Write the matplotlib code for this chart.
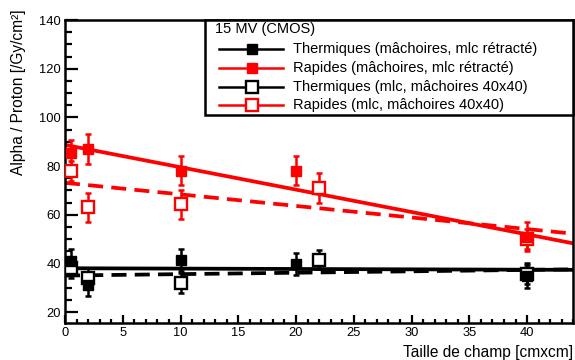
import matplotlib
matplotlib.use("Agg")
import matplotlib.pyplot as plt
from matplotlib.lines import Line2D
from matplotlib.patches import Rectangle
import numpy as np

plt.rcParams['font.family'] = ['Liberation Sans', 'DejaVu Sans']

# ---- data ----
x_jaws = [0.5, 2, 10, 20, 40]
therm_jaws = [41.0, 31.0, 41.5, 39.7, 35.0]
therm_jaws_err = [5.0, 4.5, 4.5, 4.5, 5.0]
rap_jaws = [85.5, 87.0, 78.0, 78.0, 51.0]
rap_jaws_err = [5.0, 6.0, 6.0, 6.0, 6.0]

x_mlc = [0.5, 2, 10, 22, 40]
therm_mlc = [38.0, 34.0, 32.0, 41.5, 35.5]
therm_mlc_err = [4.0, 4.0, 4.0, 4.0, 4.0]
rap_mlc = [78.0, 63.0, 64.3, 71.0, 50.0]
rap_mlc_err = [4.0, 6.0, 6.0, 6.0, 4.0]

# linear fits: (intercept, slope)
fit_therm_jaws = (38.0, -0.015)
fit_rap_jaws = (88.7, -0.92)
fit_therm_mlc = (35.0, 0.058)
fit_rap_mlc = (73.1, -0.475)
fit_range = [0.0, 44.0]

legend_title = "15 MV (CMOS)"
legend_labels = ["Thermiques (mâchoires, mlc rétracté)",
                 "Rapides (mâchoires, mlc rétracté)",
                 "Thermiques (mlc, mâchoires 40x40)",
                 "Rapides (mlc, mâchoires 40x40)"]

W, H = 575, 360
fig = plt.figure(figsize=(W / 100, H / 100), dpi=100)
ax = fig.add_axes([65 / W, 1 - 323 / H, (573.3 - 65) / W, (323 - 20) / H])

RED = '#ff0000'
BLK = '#000000'

def fitline(p, style, color):
    xs = np.array(fit_range)
    ax.plot(xs, p[0] + p[1] * xs, color=color, lw=2.7,
            linestyle=style, zorder=2, solid_capstyle='butt', dash_capstyle='butt')

fitline(fit_therm_jaws, '-', BLK)
fitline(fit_therm_mlc, (0, (4, 2.2)), BLK)
fitline(fit_rap_jaws, '-', RED)
fitline(fit_rap_mlc, (0, (4, 2.2)), RED)

def pts(x, y, e, color, filled):
    ax.errorbar(x, y, yerr=e, fmt='none', ecolor=color, elinewidth=1.8,
                capsize=2.5, capthick=1.8, zorder=3)
    if filled:
        ax.plot(x, y, 's', ms=6.5, color=color, mec=color, zorder=4, linestyle='none')
    else:
        ax.plot(x, y, 's', ms=9, mfc='white', mec=color, mew=1.7, zorder=4, linestyle='none')

pts(x_mlc, therm_mlc, therm_mlc_err, BLK, False)
pts(x_jaws, therm_jaws, therm_jaws_err, BLK, True)
pts(x_mlc, rap_mlc, rap_mlc_err, RED, False)
pts(x_jaws, rap_jaws, rap_jaws_err, RED, True)

ax.set_xlim(0, 44)
ax.set_ylim(15.5, 140)
ax.set_xticks(np.arange(0, 45, 5))
ax.set_xticks(np.arange(0, 45, 1), minor=True)
ax.set_yticks(np.arange(20, 141, 20))
ax.set_yticks(np.arange(20, 141, 5), minor=True)
ax.tick_params(axis='both', which='both', direction='in', top=False, right=False,
               width=1.6, color='black', labelsize=9.3)
ax.tick_params(axis='y', which='major', length=9.5, pad=3)
ax.tick_params(axis='y', which='minor', length=5)
ax.tick_params(axis='x', which='major', length=6, pad=3)
ax.tick_params(axis='x', which='minor', length=3)
for s in ax.spines.values():
    s.set_linewidth(1.8)

def fx(x):
    return x / W

def fy(y):
    return 1 - y / H

fig.text(fx(19), fy(9), "Alpha / Proton [/Gy/cm²]", rotation=90,
         ha='center', va='top', fontsize=11.2)
fig.text(fx(573), fy(352), "Taille de champ [cmxcm]", ha='right', va='center', fontsize=11.2)

# legend box
fig.patches.append(Rectangle((fx(205), fy(115)), fx(573.3) - fx(205), fy(20) - fy(115),
                             transform=fig.transFigure, facecolor='white',
                             edgecolor='black', lw=1.8, zorder=5))
fig.text(fx(215), fy(29), legend_title, ha='left', va='center', fontsize=10.5, zorder=6)
styles = [(BLK, True), (RED, True), (BLK, False), (RED, False)]
ys = [49, 68, 87, 105]
for (c, filled), yy, lab in zip(styles, ys, legend_labels):
    fig.lines.append(Line2D([fx(219), fx(283)], [fy(yy), fy(yy)], transform=fig.transFigure,
                            color=c, lw=1.8, zorder=6))
    if filled:
        fig.lines.append(Line2D([fx(252)], [fy(yy)], transform=fig.transFigure, marker='s',
                                ms=6.5, color=c, zorder=7, linestyle='none'))
    else:
        fig.lines.append(Line2D([fx(252)], [fy(yy)], transform=fig.transFigure, marker='s',
                                ms=9, mfc='white', mec=c, mew=1.7, zorder=7, linestyle='none'))
    fig.text(fx(293), fy(yy), lab, ha='left', va='center', fontsize=10.5, zorder=6)

fig.savefig("out.png", dpi=100)
